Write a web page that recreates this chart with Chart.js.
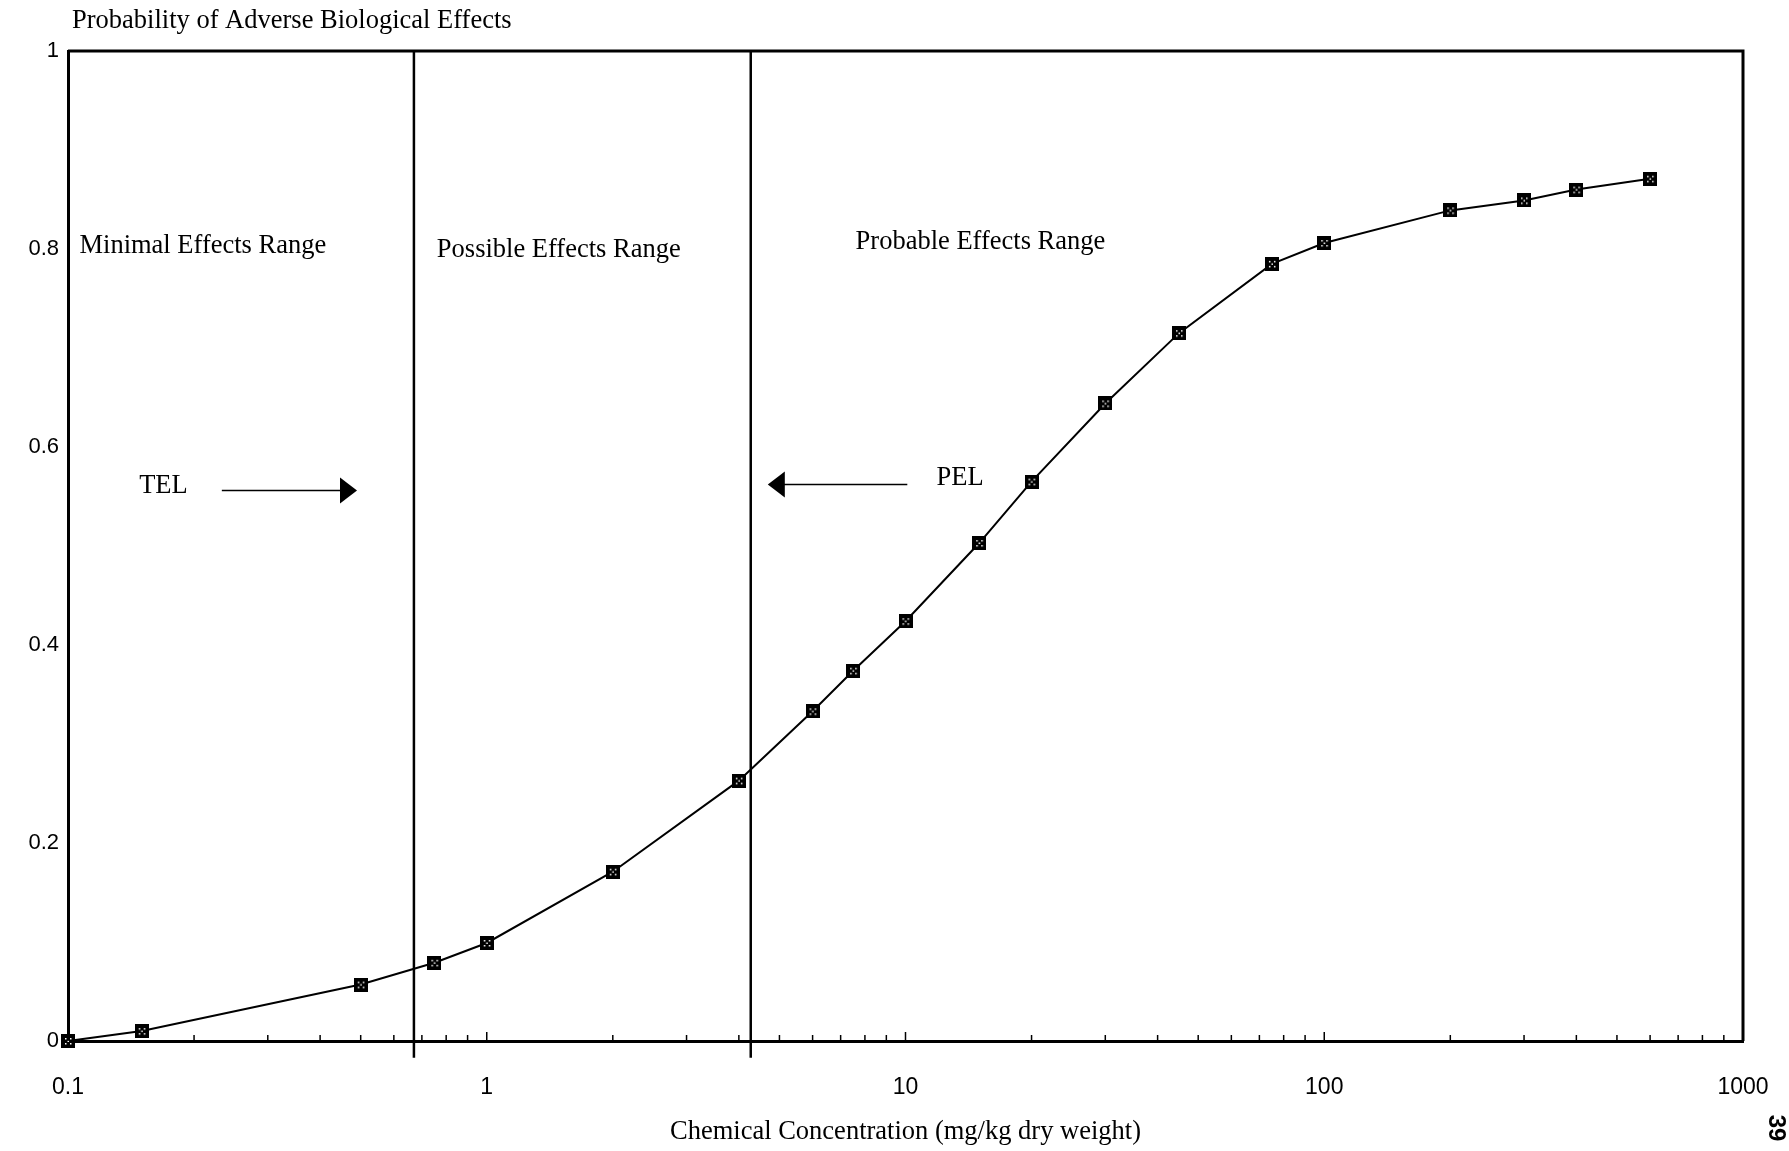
<!DOCTYPE html>
<html>
<head>
<meta charset="utf-8">
<script src="https://cdn.jsdelivr.net/npm/chart.js@4.4.0/dist/chart.umd.min.js"></script>
<style>
  body { margin: 0; background: #fff; }
  #wrap { width: 1789px; height: 1151px; position: relative; }
</style>
</head>
<body>
<div id="wrap"><canvas id="chart"></canvas></div>
<script>
// concentration (mg/kg dry weight) and probability
const concentration = [0.1, 0.15, 0.5, 0.75, 1, 2, 4, 6, 7.5, 10, 15, 20, 30, 45, 75, 100, 200, 300, 400, 600];
const probability   = [0, 0.01, 0.057, 0.079, 0.099, 0.171, 0.263, 0.333, 0.374, 0.424, 0.503, 0.565, 0.644, 0.715, 0.785, 0.806, 0.839, 0.849, 0.86, 0.871];

// threshold levels (vertical lines)
const telValue = 0.67;
const pelValue = 4.27;

const xTickValues = [0.1, 1, 10, 100, 1000];
const yTickValues = [0, 0.2, 0.4, 0.6, 0.8, 1];

const rangeLabels = [
  { text: 'Minimal Effects Range', x: 0.1065, y: 0.803 },
  { text: 'Possible Effects Range', x: 0.76, y: 0.799 },
  { text: 'Probable Effects Range', x: 7.6, y: 0.807 }
];

const serif = '"Liberation Serif", "Times New Roman", serif';
const sans = '"Liberation Sans", Arial, sans-serif';

// little black square with white speckles, like the scanned markers
function makeMarker() {
  const c = document.createElement('canvas');
  c.width = 14; c.height = 14;
  const g = c.getContext('2d');
  g.fillStyle = '#000';
  g.fillRect(0, 0, 14, 14);
  g.fillStyle = '#fff';
  [[4,4],[9,4],[6.5,6.5],[4,9],[9,9]].forEach(p => g.fillRect(p[0], p[1], 1.5, 1.5));
  return c;
}
const marker = makeMarker();

const curvePoints = concentration.map((c, i) => ({ x: c, y: probability[i] }));

// boxes, minor ticks, labels and arrows
const extrasPlugin = {
  id: 'extras',
  afterDraw(chart) {
    const ctx = chart.ctx;
    const xs = chart.scales.x, ys = chart.scales.y;
    const a = chart.chartArea;
    ctx.save();
    ctx.strokeStyle = '#000';
    ctx.fillStyle = '#000';

    // top and right border
    ctx.lineWidth = 3;
    ctx.beginPath();
    ctx.moveTo(a.left, a.top);
    ctx.lineTo(a.right, a.top);
    ctx.lineTo(a.right, a.bottom);
    ctx.stroke();

    // log minor ticks pointing up from the x axis
    ctx.lineWidth = 1.5;
    for (let e = -1; e < 3; e++) {
      for (let k = 1; k <= 9; k++) {
        const v = k * Math.pow(10, e);
        const px = xs.getPixelForValue(v);
        const len = k === 1 ? 9 : 6;
        ctx.beginPath();
        ctx.moveTo(px, a.bottom);
        ctx.lineTo(px, a.bottom - len);
        ctx.stroke();
      }
    }

    // range labels
    ctx.font = '26.5px ' + serif;
    ctx.textBaseline = 'middle';
    ctx.textAlign = 'left';
    rangeLabels.forEach(l => {
      ctx.fillText(l.text, xs.getPixelForValue(l.x), ys.getPixelForValue(l.y));
    });

    // TEL / PEL labels
    ctx.textAlign = 'center';
    ctx.fillText('TEL', xs.getPixelForValue(0.169), ys.getPixelForValue(0.561));
    ctx.fillText('PEL', xs.getPixelForValue(13.5), ys.getPixelForValue(0.569));

    // arrows
    function arrow(x0, x1, yv) {
      const p0 = xs.getPixelForValue(x0), p1 = xs.getPixelForValue(x1);
      const py = ys.getPixelForValue(yv);
      const dir = Math.sign(p1 - p0);
      ctx.lineWidth = 1.5;
      ctx.beginPath();
      ctx.moveTo(p0, py);
      ctx.lineTo(p1 - dir * 14, py);
      ctx.stroke();
      ctx.beginPath();
      ctx.moveTo(p1, py);
      ctx.lineTo(p1 - dir * 17, py - 13);
      ctx.lineTo(p1 - dir * 17, py + 13);
      ctx.closePath();
      ctx.fill();
    }
    arrow(0.233, 0.49, 0.556);
    arrow(10.1, 4.69, 0.562);

    // chart title top-left
    ctx.textAlign = 'left';
    ctx.font = '26.5px ' + serif;
    ctx.fillText('Probability of Adverse Biological Effects', 72, 21);

    // page number, rotated
    ctx.translate(1776, 1128);
    ctx.rotate(Math.PI / 2);
    ctx.font = 'bold 24px ' + sans;
    ctx.textAlign = 'center';
    ctx.fillText('39', 0, 0);
    ctx.restore();
  }
};

new Chart(document.getElementById('chart'), {
  type: 'scatter',
  data: {
    datasets: [
      {
        data: curvePoints,
        showLine: true,
        borderColor: '#000',
        borderWidth: 2,
        tension: 0,
        pointStyle: marker,
        pointRadius: 7,
        clip: false
      },
      {
        data: [{ x: telValue, y: -0.017 }, { x: telValue, y: 1 }],
        showLine: true,
        borderColor: '#000',
        borderWidth: 2.5,
        pointRadius: 0,
        clip: false
      },
      {
        data: [{ x: pelValue, y: -0.017 }, { x: pelValue, y: 1 }],
        showLine: true,
        borderColor: '#000',
        borderWidth: 2.5,
        pointRadius: 0,
        clip: false
      }
    ]
  },
  options: {
    responsive: true,
    maintainAspectRatio: false,
    animation: false,
    events: [],
    layout: { padding: { top: 51, right: 46, left: 0, bottom: 0 } },
    plugins: {
      legend: { display: false },
      tooltip: { enabled: false }
    },
    scales: {
      x: {
        type: 'logarithmic',
        min: 0.1,
        max: 1000,
        afterBuildTicks: (s) => { s.ticks = xTickValues.map(v => ({ value: v })); },
        afterFit: (s) => { s.height = 110; s.paddingLeft = 0; s.paddingRight = 0; },
        grid: { display: false, drawTicks: false },
        border: { display: true, color: '#000', width: 3 },
        ticks: {
          padding: 33,
          color: '#000',
          maxRotation: 0,
          font: { family: sans, size: 23 },
          callback: (v) => String(v)
        },
        title: {
          display: true,
          text: 'Chemical Concentration (mg/kg dry weight)',
          color: '#000',
          font: { family: serif, size: 26.5 },
          padding: { top: 0, bottom: 3 }
        }
      },
      y: {
        min: 0,
        max: 1,
        afterBuildTicks: (s) => { s.ticks = yTickValues.map(v => ({ value: v })); },
        afterFit: (s) => { s.width = 68; },
        grid: { display: false, drawTicks: false },
        border: { display: true, color: '#000', width: 3 },
        ticks: {
          padding: 9,
          color: '#000',
          font: { family: sans, size: 22 },
          callback: (v) => String(v)
        }
      }
    }
  },
  plugins: [extrasPlugin]
});
</script>
</body>
</html>
